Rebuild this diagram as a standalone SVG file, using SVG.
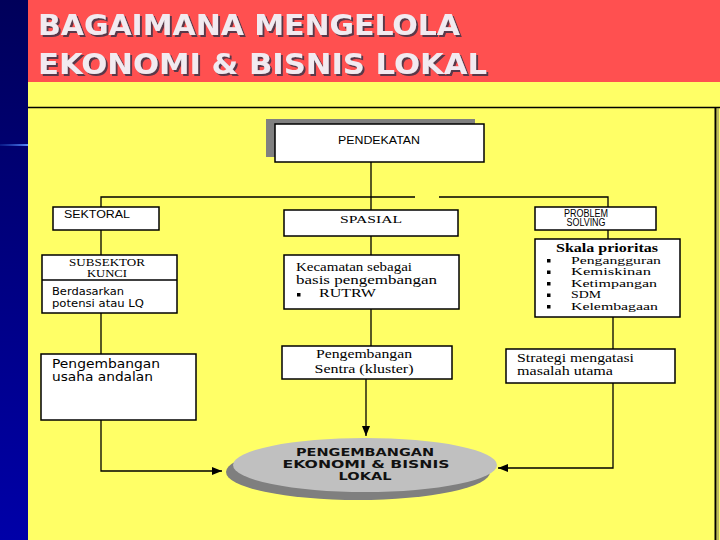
<svg xmlns="http://www.w3.org/2000/svg" width="720" height="540" viewBox="0 0 720 540">
<defs>
<linearGradient id="navy" x1="0" y1="0" x2="0" y2="1">
<stop offset="0" stop-color="#00005a"/>
<stop offset="1" stop-color="#0000a8"/>
</linearGradient>
<linearGradient id="glow" x1="0" y1="0" x2="1" y2="0">
<stop offset="0" stop-color="#2050c0" stop-opacity="0.3"/>
<stop offset="1" stop-color="#5a8cff"/>
</linearGradient>
<filter id="shadow" x="-5%" y="-20%" width="110%" height="140%">
<feDropShadow dx="2" dy="2" stdDeviation="0" flood-color="#5a3848" flood-opacity="1"/>
</filter>
<marker id="arr" markerUnits="userSpaceOnUse" markerWidth="10" markerHeight="8" refX="10" refY="4" orient="auto">
<path d="M0,0 L10,4 L0,8 z" fill="#000"/>
</marker>
<style>
.box{fill:#fff;stroke:#000;stroke-width:1.5}
.ln{fill:none;stroke:#000;stroke-width:1.3}
.ttl{font-family:"DejaVu Sans",Verdana,sans-serif;font-weight:bold;font-size:28px;fill:#f2eaf0}
.sans{font-family:"DejaVu Sans",Verdana,sans-serif;fill:#000}
.ar{font-family:"Liberation Sans",Arial,sans-serif;fill:#000}
.ser{font-family:"Liberation Serif","Times New Roman",serif;fill:#000}
.ell{font-family:"DejaVu Sans",Verdana,sans-serif;font-weight:bold;font-size:11px;fill:#111;text-anchor:middle}
</style>
</defs>

<!-- background -->
<rect x="0" y="0" width="720" height="540" fill="#ffff66"/>
<rect x="0" y="0" width="28" height="540" fill="url(#navy)"/>
<rect x="0" y="144" width="28" height="2" fill="url(#glow)"/>
<rect x="28" y="0" width="692" height="82" fill="#ff5050"/>
<line x1="28" y1="107.5" x2="720" y2="107.5" stroke="#000" stroke-width="1.5"/>
<line x1="715.5" y1="108" x2="715.5" y2="540" stroke="#000" stroke-width="2"/>
<line x1="718" y1="108" x2="718" y2="540" stroke="#555" stroke-width="0.8"/>

<!-- title -->
<g id="title" filter="url(#shadow)">
<text class="ttl" x="38" y="35" textLength="422" lengthAdjust="spacingAndGlyphs">BAGAIMANA MENGELOLA</text>
<text class="ttl" x="38" y="74" textLength="449" lengthAdjust="spacingAndGlyphs">EKONOMI &amp; BISNIS LOKAL</text>
</g>

<!-- connectors -->
<g id="connectors">
<polyline class="ln" points="101,207 101,197 415,197"/>
<polyline class="ln" points="439,197 608,197 608,207"/>
<line class="ln" x1="371" y1="162" x2="371" y2="210"/>
<line class="ln" x1="101" y1="230" x2="101" y2="255"/>
<line class="ln" x1="101" y1="313" x2="101" y2="354"/>
<polyline class="ln" points="101,420 101,471 222,471" marker-end="url(#arr)"/>
<line class="ln" x1="371" y1="236" x2="371" y2="255"/>
<line class="ln" x1="371" y1="309" x2="371" y2="346"/>
<line class="ln" x1="366" y1="379" x2="366" y2="436" marker-end="url(#arr)"/>
<line class="ln" x1="608" y1="230" x2="608" y2="239"/>
<line class="ln" x1="613" y1="317" x2="613" y2="349"/>
<polyline class="ln" points="613,383 613,468 498,468" marker-end="url(#arr)"/>
</g>

<!-- nodes -->
<g id="pendekatan">
<rect x="266" y="119" width="209" height="38" fill="#808080"/>
<rect class="box" x="275" y="124" width="209" height="38"/>
<text class="ar" x="379" y="144" font-size="10" text-anchor="middle" textLength="82" lengthAdjust="spacingAndGlyphs">PENDEKATAN</text>
</g>

<g id="sektoral">
<rect class="box" x="53" y="207" width="106" height="23"/>
<text class="ar" x="64" y="218" font-size="10" textLength="66" lengthAdjust="spacingAndGlyphs">SEKTORAL</text>
</g>

<g id="spasial">
<rect class="box" x="284" y="210" width="174" height="26"/>
<text class="ser" x="371" y="223" font-size="11" text-anchor="middle" textLength="62" lengthAdjust="spacingAndGlyphs">SPASIAL</text>
</g>

<g id="problem-solving">
<rect class="box" x="535" y="207" width="121" height="23"/>
<text class="ar" x="586" y="216.5" font-size="10" text-anchor="middle" textLength="44" lengthAdjust="spacingAndGlyphs">PROBLEM</text>
<text class="ar" x="586" y="226" font-size="10" text-anchor="middle" textLength="39" lengthAdjust="spacingAndGlyphs">SOLVING</text>
</g>

<g id="subsektor">
<rect class="box" x="42" y="255" width="135" height="58"/>
<line x1="42" y1="280" x2="177" y2="280" stroke="#000" stroke-width="1.5"/>
<text class="ser" x="107" y="266" font-size="10" text-anchor="middle" textLength="76" lengthAdjust="spacingAndGlyphs">SUBSEKTOR</text>
<text class="ser" x="107" y="277" font-size="10" text-anchor="middle" textLength="40" lengthAdjust="spacingAndGlyphs">KUNCI</text>
<text class="sans" x="52" y="295" font-size="11" textLength="72" lengthAdjust="spacingAndGlyphs">Berdasarkan</text>
<text class="sans" x="52" y="307" font-size="11" textLength="92" lengthAdjust="spacingAndGlyphs">potensi atau LQ</text>
</g>

<g id="kecamatan">
<rect class="box" x="284" y="255" width="175" height="54"/>
<text class="ser" x="296" y="271" font-size="12" textLength="116" lengthAdjust="spacingAndGlyphs">Kecamatan sebagai</text>
<text class="ser" x="296" y="284" font-size="12" textLength="141" lengthAdjust="spacingAndGlyphs">basis pengembangan</text>
<rect x="297" y="293" width="3.5" height="3.5" fill="#000"/>
<text class="ser" x="319" y="297" font-size="12" textLength="57" lengthAdjust="spacingAndGlyphs">RUTRW</text>
</g>

<g id="skala-prioritas">
<rect class="box" x="535" y="239" width="145" height="78"/>
<text class="ser" x="556" y="252" font-size="12" font-weight="bold" textLength="102" lengthAdjust="spacingAndGlyphs">Skala prioritas</text>
<rect x="547" y="259" width="3.5" height="3.5" fill="#000"/>
<text class="ser" x="571" y="263.5" font-size="11" textLength="90" lengthAdjust="spacingAndGlyphs">Pengangguran</text>
<rect x="547" y="270.5" width="3.5" height="3.5" fill="#000"/>
<text class="ser" x="571" y="275" font-size="11" textLength="80" lengthAdjust="spacingAndGlyphs">Kemiskinan</text>
<rect x="547" y="282" width="3.5" height="3.5" fill="#000"/>
<text class="ser" x="571" y="286.5" font-size="11" textLength="86" lengthAdjust="spacingAndGlyphs">Ketimpangan</text>
<rect x="547" y="293.5" width="3.5" height="3.5" fill="#000"/>
<text class="ser" x="571" y="298" font-size="11" textLength="30" lengthAdjust="spacingAndGlyphs">SDM</text>
<rect x="547" y="305" width="3.5" height="3.5" fill="#000"/>
<text class="ser" x="571" y="309.5" font-size="11" textLength="87" lengthAdjust="spacingAndGlyphs">Kelembagaan</text>
</g>

<g id="usaha-andalan">
<rect class="box" x="41" y="354" width="155" height="66"/>
<text class="sans" x="52" y="368" font-size="12" textLength="108" lengthAdjust="spacingAndGlyphs">Pengembangan</text>
<text class="sans" x="52" y="381" font-size="12" textLength="101" lengthAdjust="spacingAndGlyphs">usaha andalan</text>
</g>

<g id="sentra">
<rect class="box" x="282" y="346" width="170" height="33"/>
<text class="ser" x="364" y="358" font-size="12" text-anchor="middle" textLength="96" lengthAdjust="spacingAndGlyphs">Pengembangan</text>
<text class="ser" x="364" y="373" font-size="12" text-anchor="middle" textLength="99" lengthAdjust="spacingAndGlyphs">Sentra (kluster)</text>
</g>

<g id="strategi">
<rect class="box" x="506" y="349" width="169" height="34"/>
<text class="ser" x="517" y="362" font-size="12" textLength="117" lengthAdjust="spacingAndGlyphs">Strategi mengatasi</text>
<text class="ser" x="517" y="375" font-size="12" textLength="96" lengthAdjust="spacingAndGlyphs">masalah utama</text>
</g>

<g id="pengembangan-ekonomi">
<ellipse cx="358" cy="472" rx="132" ry="28" fill="#7f7f7f"/>
<ellipse cx="365" cy="465" rx="132" ry="27" fill="#c0c0c0"/>
<text class="ell" x="365" y="456" textLength="138" lengthAdjust="spacingAndGlyphs">PENGEMBANGAN</text>
<text class="ell" x="366" y="468" textLength="167" lengthAdjust="spacingAndGlyphs">EKONOMI &amp; BISNIS</text>
<text class="ell" x="365" y="480" textLength="53" lengthAdjust="spacingAndGlyphs">LOKAL</text>
</g>
</svg>
